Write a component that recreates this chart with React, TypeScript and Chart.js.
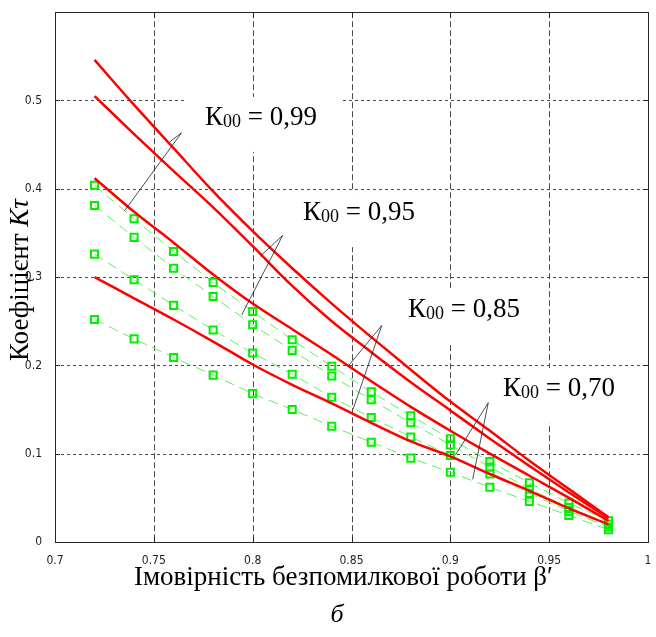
import React, { useEffect, useRef } from "react";
import { Chart, registerables } from "chart.js";

Chart.register(...registerables);

// ---- data ----
const beta = [0.72, 0.74, 0.76, 0.78, 0.8, 0.82, 0.84, 0.86, 0.88, 0.9, 0.92, 0.94, 0.96, 0.98];

// calculated curves (red)
const calcK099 = [0.546, 0.495, 0.446, 0.397, 0.352, 0.31, 0.27, 0.232, 0.195, 0.159, 0.126, 0.092, 0.06, 0.028];
const calcK095 = [0.505, 0.462, 0.42, 0.379, 0.335, 0.29, 0.25, 0.215, 0.181, 0.149, 0.117, 0.086, 0.056, 0.027];
const calcK085 = [0.412, 0.374, 0.339, 0.303, 0.27, 0.241, 0.212, 0.182, 0.153, 0.126, 0.1, 0.075, 0.05, 0.024];
const calcK070 = [0.3, 0.276, 0.252, 0.227, 0.201, 0.178, 0.157, 0.135, 0.114, 0.097, 0.077, 0.058, 0.038, 0.02];

// simulated series (green, square markers)
const simK099 = [0.404, 0.366, 0.329, 0.294, 0.261, 0.229, 0.199, 0.17, 0.143, 0.117, 0.091, 0.067, 0.044, 0.024];
const simK095 = [0.381, 0.345, 0.31, 0.278, 0.246, 0.217, 0.188, 0.161, 0.135, 0.11, 0.085, 0.06, 0.039, 0.02];
const simK085 = [0.326, 0.297, 0.268, 0.24, 0.214, 0.19, 0.164, 0.141, 0.119, 0.098, 0.077, 0.055, 0.035, 0.017];
const simK070 = [0.252, 0.23, 0.209, 0.189, 0.168, 0.15, 0.131, 0.113, 0.095, 0.079, 0.062, 0.046, 0.03, 0.014];

const xTicks = [0.7, 0.75, 0.8, 0.85, 0.9, 0.95, 1];
const yTicks = [0, 0.1, 0.2, 0.3, 0.4, 0.5, 0.6];

// annotations (data coordinates)
const kValues = ["0,99", "0,95", "0,85", "0,70"];
const labelAnchorX = [0.7759, 0.8255, 0.8786, 0.9266];
const labelAnchorY = [0.4724, 0.3645, 0.2553, 0.1654];
const leaderApexX = [0.764, 0.8152, 0.8653, 0.9192];
const leaderApexY = [0.4634, 0.3472, 0.2452, 0.1578];
const leaderCalcX = [0.7581, 0.8037, 0.8484, 0.9026];
const leaderCalcY = [0.4533, 0.3234, 0.1994, 0.0985];
const leaderSimX = [0.7353, 0.7945, 0.8508, 0.9113];
const leaderSimY = [0.3754, 0.2573, 0.1504, 0.0709];

const xTitle = "Імовірність безпомилкової роботи β′";
const yTitleMain = "Коефіцієнт ";
const yTitleSymbol = "Kτ";
const caption = "б";

const SERIF = '"Liberation Serif", "Times New Roman", serif';
const NARROW = '"Liberation Sans Narrow", "Arial Narrow", "DejaVu Sans Condensed", sans-serif';

const toPoints = (ys: number[]) => beta.map((b, i) => ({ x: b, y: ys[i] }));

const decorPlugin = {
  id: "decor",
  beforeDatasetsDraw(chart: any) {
    const { ctx, chartArea } = chart;
    const { left, right, top, bottom } = chartArea;
    const xs = chart.scales.x;
    const ys = chart.scales.y;
    ctx.save();
    // grid
    ctx.strokeStyle = "#4a4a4a";
    ctx.lineWidth = 1;
    ctx.setLineDash([6, 3]);
    xTicks.slice(1, -1).forEach((v) => {
      const px = Math.round(xs.getPixelForValue(v)) + 0.5;
      ctx.beginPath();
      ctx.moveTo(px, top);
      ctx.lineTo(px, bottom);
      ctx.stroke();
    });
    ctx.setLineDash([3, 3]);
    yTicks.slice(1, -1).forEach((v) => {
      const py = Math.round(ys.getPixelForValue(v)) + 0.5;
      ctx.beginPath();
      ctx.moveTo(left, py);
      ctx.lineTo(right, py);
      ctx.stroke();
    });
    ctx.setLineDash([]);
    // white boxes behind labels
    ctx.fillStyle = "#ffffff";
    for (let i = 0; i < kValues.length; i++) {
      const px = xs.getPixelForValue(labelAnchorX[i]);
      const py = ys.getPixelForValue(labelAnchorY[i]);
      ctx.fillRect(px - 21, py - 28, 158, 55);
    }
    // frame
    ctx.strokeStyle = "#262626";
    ctx.lineWidth = 1;
    ctx.strokeRect(Math.round(left) + 0.5, Math.round(top) + 0.5, Math.round(right - left), Math.round(bottom - top));
    // inward ticks
    ctx.beginPath();
    xTicks.forEach((v) => {
      const px = Math.round(xs.getPixelForValue(v)) + 0.5;
      ctx.moveTo(px, bottom);
      ctx.lineTo(px, bottom - 5);
      ctx.moveTo(px, top);
      ctx.lineTo(px, top + 5);
    });
    yTicks.forEach((v) => {
      const py = Math.round(ys.getPixelForValue(v)) + 0.5;
      ctx.moveTo(left, py);
      ctx.lineTo(left + 5, py);
      ctx.moveTo(right, py);
      ctx.lineTo(right - 5, py);
    });
    ctx.stroke();
    ctx.restore();
  },
  afterDatasetsDraw(chart: any) {
    const { ctx, chartArea } = chart;
    const { left, right, top, bottom } = chartArea;
    const xs = chart.scales.x;
    const ys = chart.scales.y;
    ctx.save();
    // leader lines
    ctx.strokeStyle = "#222";
    ctx.lineWidth = 0.8;
    for (let i = 0; i < kValues.length; i++) {
      const ax = xs.getPixelForValue(leaderApexX[i]);
      const ay = ys.getPixelForValue(leaderApexY[i]);
      ctx.beginPath();
      ctx.moveTo(ax, ay);
      ctx.lineTo(xs.getPixelForValue(leaderCalcX[i]), ys.getPixelForValue(leaderCalcY[i]));
      ctx.moveTo(ax, ay);
      ctx.lineTo(xs.getPixelForValue(leaderSimX[i]), ys.getPixelForValue(leaderSimY[i]));
      ctx.stroke();
    }
    // labels
    ctx.fillStyle = "#000";
    ctx.textAlign = "left";
    ctx.textBaseline = "alphabetic";
    for (let i = 0; i < kValues.length; i++) {
      const px = xs.getPixelForValue(labelAnchorX[i]);
      const py = ys.getPixelForValue(labelAnchorY[i]);
      ctx.font = `27px ${SERIF}`;
      ctx.fillText("К", px, py);
      let w = ctx.measureText("К").width;
      ctx.font = `18px ${SERIF}`;
      ctx.fillText("00", px + w, py + 2);
      w += ctx.measureText("00").width;
      ctx.font = `27px ${SERIF}`;
      ctx.fillText(" = " + kValues[i], px + w, py);
    }
    // x title
    ctx.font = `27px ${SERIF}`;
    ctx.textAlign = "center";
    ctx.fillText(xTitle, (left + right) / 2 - 8, 585);
    // caption
    ctx.font = `italic 26px ${SERIF}`;
    ctx.fillText(caption, 337, 622);
    // y title
    ctx.translate(28, (top + bottom) / 2 + 3);
    ctx.rotate(-Math.PI / 2);
    ctx.textAlign = "left";
    ctx.font = `27px ${SERIF}`;
    const w1 = ctx.measureText(yTitleMain).width;
    ctx.font = `italic 27px ${SERIF}`;
    const w2 = ctx.measureText(yTitleSymbol).width;
    const start = -(w1 + w2) / 2;
    ctx.font = `27px ${SERIF}`;
    ctx.fillText(yTitleMain, start, 0);
    ctx.font = `italic 27px ${SERIF}`;
    ctx.fillText(yTitleSymbol, start + w1, 0);
    ctx.restore();
  },
};

export default function App() {
  const canvasRef = useRef<HTMLCanvasElement | null>(null);

  useEffect(() => {
    const canvas = canvasRef.current;
    if (!canvas) return;
    const red = (label: string, ys: number[]) => ({
      label,
      data: toPoints(ys),
      borderColor: "#ff0000",
      borderWidth: 2.5,
      pointRadius: 0,
      fill: false,
      cubicInterpolationMode: "monotone" as const,
    });
    const green = (label: string, ys: number[]) => ({
      label,
      data: toPoints(ys),
      borderColor: "#5cf05c",
      borderWidth: 1,
      borderDash: [10, 6],
      pointStyle: "rect" as const,
      pointRadius: 5,
      pointBorderWidth: 2,
      pointBorderColor: "#00f000",
      pointBackgroundColor: "rgba(255,255,255,0)",
      fill: false,
    });
    const chart = new Chart(canvas, {
      type: "line",
      data: {
        datasets: [
          red("К00 = 0,99 (розрахунок)", calcK099),
          red("К00 = 0,95 (розрахунок)", calcK095),
          red("К00 = 0,85 (розрахунок)", calcK085),
          red("К00 = 0,70 (розрахунок)", calcK070),
          green("К00 = 0,99", simK099),
          green("К00 = 0,95", simK095),
          green("К00 = 0,85", simK085),
          green("К00 = 0,70", simK070),
        ],
      },
      options: {
        responsive: false,
        devicePixelRatio: 1,
        animation: false,
        events: [],
        layout: { padding: { top: 9, right: 8, left: 0, bottom: 0 } },
        plugins: { legend: { display: false }, tooltip: { enabled: false }, title: { display: false } },
        scales: {
          x: {
            type: "linear",
            min: 0.7,
            max: 1,
            afterFit: (s: any) => {
              s.height = 95;
            },
            afterBuildTicks: (s: any) => {
              s.ticks = xTicks.map((v) => ({ value: v }));
            },
            grid: { display: false },
            border: { display: false },
            ticks: {
              padding: 4,
              maxRotation: 0,
              autoSkip: false,
              color: "#222",
              font: { family: NARROW, size: 12 },
              callback: (v: any) => String(Math.round(Number(v) * 100) / 100),
            },
          },
          y: {
            type: "linear",
            min: 0,
            max: 0.6,
            afterFit: (s: any) => {
              s.width = 55;
            },
            afterBuildTicks: (s: any) => {
              s.ticks = yTicks.map((v) => ({ value: v }));
            },
            grid: { display: false },
            border: { display: false },
            ticks: {
              padding: 5,
              autoSkip: false,
              color: "#222",
              font: { family: NARROW, size: 12 },
              callback: (v: any) => {
                const n = Math.round(Number(v) * 10) / 10;
                return n >= 0.6 ? "" : String(n);
              },
            },
          },
        },
      },
      plugins: [decorPlugin],
    });
    return () => chart.destroy();
  }, []);

  return (
    <div style={{ position: "absolute", left: 0, top: 0, width: 656, height: 637, background: "#fff" }}>
      <canvas ref={canvasRef} width={656} height={637} style={{ width: 656, height: 637, display: "block" }} />
    </div>
  );
}
